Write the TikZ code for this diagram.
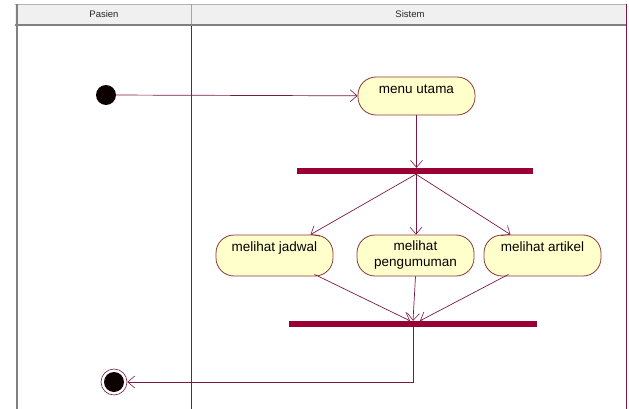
\documentclass[tikz,border=0pt]{standalone}
\usepackage{fontspec}
\setmainfont{Liberation Sans}
\usetikzlibrary{arrows.meta,calc}
\definecolor{lnc}{HTML}{7A1A44}
\definecolor{barc}{HTML}{990033}
\definecolor{actfill}{HTML}{FFFFCC}
\definecolor{actdraw}{HTML}{8A3A3A}
\definecolor{hdr}{HTML}{F0F0F0}
\tikzset{
  act/.style={draw=actdraw, fill=actfill, rounded corners=18pt, line width=0.8pt,
    minimum width=117pt, minimum height=40pt, align=center, font=\fontsize{13.5}{16}\selectfont,
    inner sep=0pt},
  bar/.style={fill=barc, draw=none, minimum height=6pt, inner sep=0pt},
  arr/.style={draw=lnc, line width=0.7pt, -{Straight Barb[length=7pt,width=12pt,line width=0.6pt]}},
  ln/.style={draw=lnc, line width=0.7pt},
  lane/.style={draw=lnc, line width=0.8pt},
  hdrtext/.style={font=\fontsize{9.5}{10}\selectfont, text=black!85}
}
\begin{document}
\begin{tikzpicture}[x=1pt,y=-1pt]
\useasboundingbox (0,0) rectangle (629,409);
% header
\fill[hdr] (15,4) rectangle (627,24);
\draw[gray!60, line width=0.6pt] (15,4) -- (627,4);
\draw[gray, line width=2.5pt] (15,25) -- (627,25);
\draw[gray!70, line width=0.6pt] (191,4) -- (191,24);
\node[hdrtext] (hpas) at (104,14) {Pasien};
\node[hdrtext] (hsis) at (410,14) {Sistem};
% lanes
\draw[gray, line width=2pt] (17,4) -- (17,409);
\draw[lane] (191,26) -- (191,409);
\draw[lane] (626,4) -- (626,409);
% nodes
\node[circle, fill=black!95!red, minimum size=20pt, inner sep=0pt] (start) at (106,95) {};
\node[act, minimum height=38pt, text depth=13pt] (menu) at (416.5,96) {menu utama};
\node[bar, minimum width=236pt] (fork) at (415,171) {};
\node[act, minimum height=41pt, text depth=17pt] (jadwal) at (274.5,255.5) {melihat jadwal};
\node[act, minimum height=41pt, text depth=4pt] (peng) at (415.5,255.5) {melihat\\pengumuman};
\node[act, minimum height=41pt, text depth=17pt] (artikel) at (542.5,255.5) {melihat artikel};
\node[bar, minimum width=248pt] (join) at (413,324) {};
\node[circle, draw=lnc, line width=0.6pt, minimum size=26pt, inner sep=0pt] (final) at (114,382) {};
\fill[black!95!red] (final.center) circle (10pt);
% connectors
\draw[arr] (start) -- (menu);
\draw[arr] (menu.south) -- (menu.south |- fork.north);
\draw[arr] ($(fork.south)+(1,0)$) -- ($(jadwal.north)+(36,0)$);
\draw[arr] ($(fork.south)+(1,0)$) -- ($(peng.north)+(0.5,0)$);
\draw[arr] ($(fork.south)+(1,0)$) -- ($(artikel.north)+(-32,0)$);
\draw[arr] ($(jadwal.south)+(40,-2)$) -- ($(join.north)+(-3,0)$);
\draw[arr] (peng.south) -- (join.north);
\draw[arr] ($(artikel.south)+(-34,-2)$) -- ($(join.north)+(7,0)$);
\draw[arr] (join.south) |- (final);
\end{tikzpicture}
\end{document}
